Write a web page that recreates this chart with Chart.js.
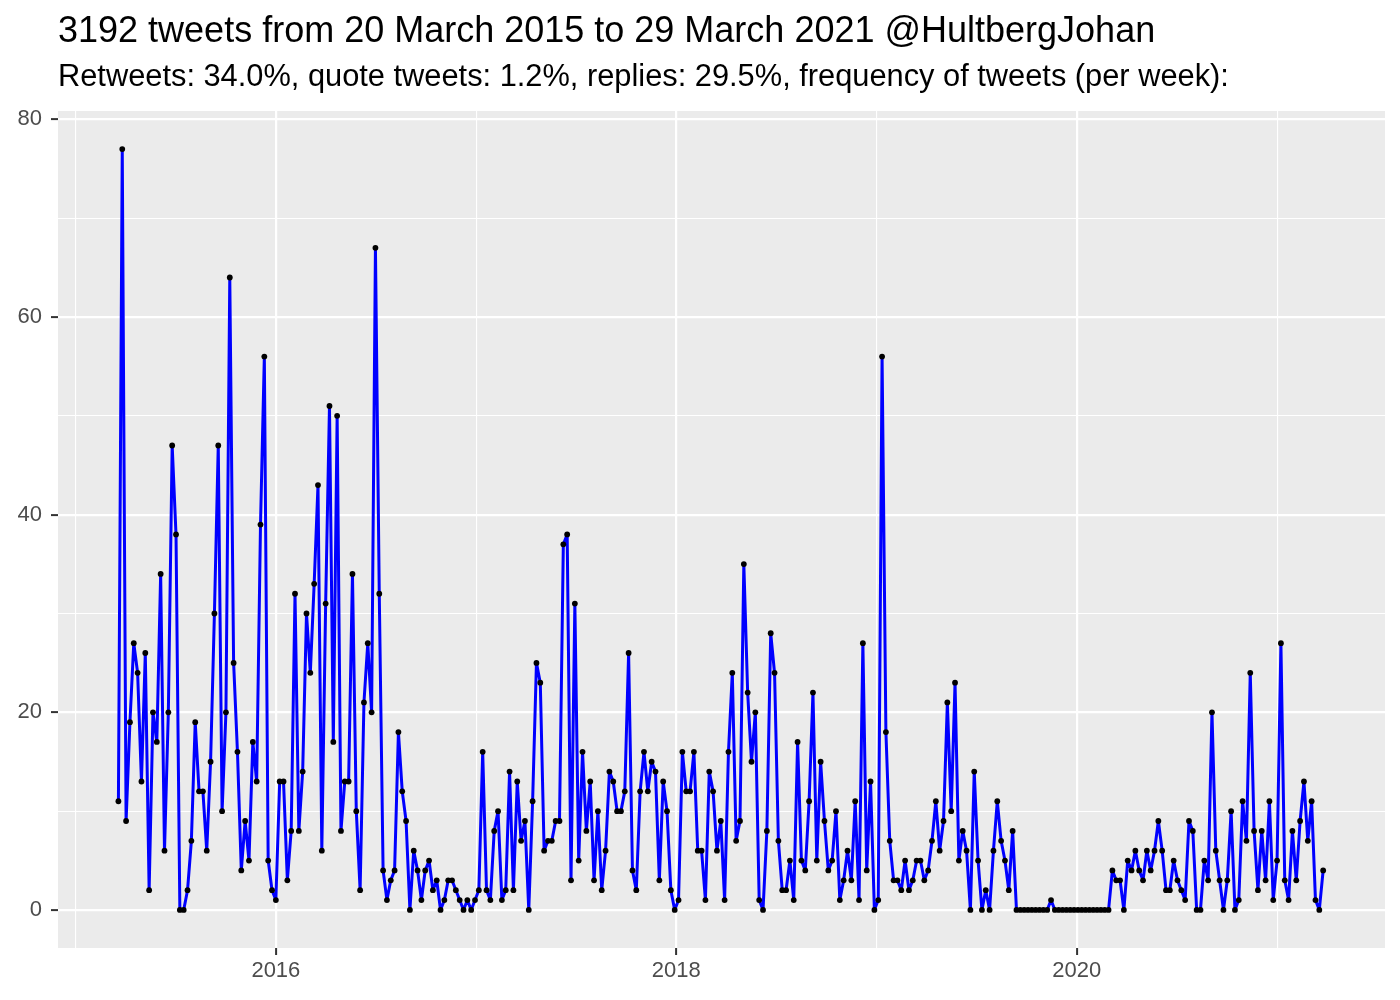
<!DOCTYPE html>
<html>
<head>
<meta charset="utf-8">
<script src="https://cdn.jsdelivr.net/npm/chart.js@4.4.1/dist/chart.umd.min.js"></script>
<style>
  body { margin: 0; background: #fff; }
  #wrap { position: relative; width: 1400px; height: 1000px; font-family: "Liberation Sans", Arial, sans-serif; }
  #title { position: absolute; left: 58px; top: 12px; font-size: 36px; line-height: 1; color: #000; white-space: nowrap; }
  #subtitle { position: absolute; left: 58px; top: 61px; font-size: 30.8px; line-height: 1; color: #000; white-space: nowrap; }
  canvas { position: absolute; left: 0; top: 0; }
</style>
</head>
<body>
<div id="wrap">
  <canvas id="chart" width="1400" height="1000"></canvas>
  <div id="title">3192 tweets from 20 March 2015 to 29 March 2021 @HultbergJohan</div>
  <div id="subtitle">Retweets: 34.0%, quote tweets: 1.2%, replies: 29.5%, frequency of tweets (per week):</div>
</div>
<script>
// 週ごとのツイート数（2015-03-20 から 1 週間ずつ）
const startDate = '2015-03-20';
const tweetsPerWeek = [
  11, 77, 9, 19, 27, 24, 13, 26, 2, 20,
  17, 34, 6, 20, 47, 38, 0, 0, 2, 7,
  19, 12, 12, 6, 15, 30, 47, 10, 20, 64,
  25, 16, 4, 9, 5, 17, 13, 39, 56, 5,
  2, 1, 13, 13, 3, 8, 32, 8, 14, 30,
  24, 33, 43, 6, 31, 51, 17, 50, 8, 13,
  13, 34, 10, 2, 21, 27, 20, 67, 32, 4,
  1, 3, 4, 18, 12, 9, 0, 6, 4, 1,
  4, 5, 2, 3, 0, 1, 3, 3, 2, 1,
  0, 1, 0, 1, 2, 16, 2, 1, 8, 10,
  1, 2, 14, 2, 13, 7, 9, 0, 11, 25,
  23, 6, 7, 7, 9, 9, 37, 38, 3, 31,
  5, 16, 8, 13, 3, 10, 2, 6, 14, 13,
  10, 10, 12, 26, 4, 2, 12, 16, 12, 15,
  14, 3, 13, 10, 2, 0, 1, 16, 12, 12,
  16, 6, 6, 1, 14, 12, 6, 9, 1, 16,
  24, 7, 9, 35, 22, 15, 20, 1, 0, 8,
  28, 24, 7, 2, 2, 5, 1, 17, 5, 4,
  11, 22, 5, 15, 9, 4, 5, 10, 1, 3,
  6, 3, 11, 1, 27, 4, 13, 0, 1, 56,
  18, 7, 3, 3, 2, 5, 2, 3, 5, 5,
  3, 4, 7, 11, 6, 9, 21, 10, 23, 5,
  8, 6, 0, 14, 5, 0, 2, 0, 6, 11,
  7, 5, 2, 8, 0, 0, 0, 0, 0, 0,
  0, 0, 0, 1, 0, 0, 0, 0, 0, 0,
  0, 0, 0, 0, 0, 0, 0, 0, 0, 4,
  3, 3, 0, 5, 4, 6, 4, 3, 6, 4,
  6, 9, 6, 2, 2, 5, 3, 2, 1, 9,
  8, 0, 0, 5, 3, 20, 6, 3, 0, 3,
  10, 0, 1, 11, 7, 24, 8, 2, 8, 3,
  11, 1, 5, 27, 3, 1, 8, 3, 9, 13,
  7, 11, 1, 0, 4
];
const yTicks = [0, 10, 20, 30, 40, 50, 60, 70, 80];
const yLabels = [0, 20, 40, 60, 80];
const xTicks = [2015, 2016, 2017, 2018, 2019, 2020, 2021];
const xLabels = [2016, 2018, 2020];

// 日付を小数の年に変換
function toYear(d) {
  const y = d.getUTCFullYear();
  const s = Date.UTC(y, 0, 1), e = Date.UTC(y + 1, 0, 1);
  return y + (d.getTime() - s) / (e - s);
}

const t0 = new Date(startDate + 'T00:00:00Z');
const points = tweetsPerWeek.map((v, i) => ({
  x: toYear(new Date(t0.getTime() + i * 7 * 86400000)),
  y: v
}));

const panelBg = {
  id: 'panelBg',
  beforeDraw(chart) {
    const a = chart.chartArea, ctx = chart.ctx;
    ctx.save();
    ctx.fillStyle = '#EBEBEB';
    ctx.fillRect(a.left, a.top, a.right - a.left, a.bottom - a.top);
    ctx.restore();
  }
};

const tickFont = { family: '"Liberation Sans", Arial, sans-serif', size: 22 };

new Chart(document.getElementById('chart').getContext('2d'), {
  type: 'line',
  data: {
    datasets: [{
      data: points,
      borderColor: '#0000FF',
      borderWidth: 3,
      borderJoinStyle: 'round',
      borderCapStyle: 'round',
      pointRadius: 2.9,
      pointBackgroundColor: '#000',
      pointBorderWidth: 0,
      tension: 0
    }]
  },
  options: {
    responsive: false,
    animation: false,
    layout: { padding: { top: 111, right: 15, bottom: 7, left: 0 } },
    plugins: { legend: { display: false }, tooltip: { enabled: false } },
    scales: {
      x: {
        type: 'linear',
        min: 2014.912,
        max: 2021.539,
        afterBuildTicks: s => { s.ticks = xTicks.map(v => ({ value: v })); },
        afterFit: s => { s.height = 45; },
        border: { display: false },
        grid: {
          color: '#FFFFFF',
          lineWidth: c => xLabels.includes(c.tick.value) ? 2.2 : 1.1,
          drawTicks: true,
          tickLength: 7,
          tickWidth: 2,
          tickColor: c => xLabels.includes(c.tick.value) ? '#333333' : 'rgba(0,0,0,0)'
        },
        ticks: {
          autoSkip: false,
          maxRotation: 0,
          padding: 3,
          color: '#4D4D4D',
          font: tickFont,
          callback: v => xLabels.includes(v) ? String(v) : ''
        }
      },
      y: {
        min: -3.85,
        max: 80.85,
        afterBuildTicks: s => { s.ticks = yTicks.map(v => ({ value: v })); },
        afterFit: s => { s.width = 58; },
        border: { display: false },
        grid: {
          color: '#FFFFFF',
          lineWidth: c => yLabels.includes(c.tick.value) ? 2.2 : 1.1,
          drawTicks: true,
          tickLength: 7,
          tickWidth: 2,
          tickColor: c => yLabels.includes(c.tick.value) ? '#333333' : 'rgba(0,0,0,0)'
        },
        ticks: {
          padding: 9,
          color: '#4D4D4D',
          font: tickFont,
          callback: v => yLabels.includes(v) ? String(v) : ''
        }
      }
    }
  },
  plugins: [panelBg]
});
</script>
</body>
</html>
